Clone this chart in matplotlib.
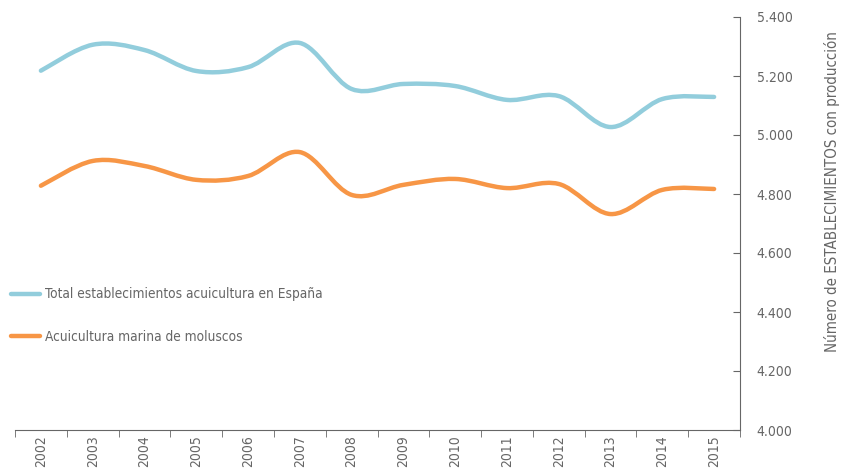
import matplotlib.pyplot as plt
from matplotlib.path import Path
from matplotlib.patches import PathPatch
from matplotlib.lines import Line2D
import numpy as np

# ------------------ Data ------------------
years = ["2002", "2003", "2004", "2005", "2006", "2007", "2008",
         "2009", "2010", "2011", "2012", "2013", "2014", "2015"]

total_espana = [5218, 5306, 5288, 5217, 5230, 5312, 5156,
                5173, 5166, 5119, 5132, 5027, 5122, 5129]

moluscos = [4828, 4912, 4895, 4848, 4861, 4942, 4797,
            4831, 4851, 4820, 4834, 4732, 4814, 4817]

y_ticks = [4000, 4200, 4400, 4600, 4800, 5000, 5200, 5400]

blue = "#92CDDC"
orange = "#F79646"
grey = "#666666"

plt.rcParams['font.family'] = ['DejaVu Sans']
plt.rcParams['font.stretch'] = 'condensed'


def smooth_path(xs, ys, tension=0.5):
    # cubic bezier through every point (Catmull-Rom style smoothed line)
    xs = np.asarray(xs, float)
    ys = np.asarray(ys, float)
    n = len(xs)
    verts = [(xs[0], ys[0])]
    codes = [Path.MOVETO]
    for i in range(n - 1):
        x0, y0 = (xs[i - 1], ys[i - 1]) if i > 0 else (xs[i], ys[i])
        x3, y3 = (xs[i + 2], ys[i + 2]) if i + 2 < n else (xs[i + 1], ys[i + 1])
        c1 = (xs[i] + (xs[i + 1] - x0) * tension / 3, ys[i] + (ys[i + 1] - y0) * tension / 3)
        c2 = (xs[i + 1] - (x3 - xs[i]) * tension / 3, ys[i + 1] - (y3 - ys[i]) * tension / 3)
        verts += [c1, c2, (xs[i + 1], ys[i + 1])]
        codes += [Path.CURVE4] * 3
    return Path(verts, codes)


fig = plt.figure(figsize=(8.5, 4.7), dpi=100)
ax = fig.add_axes([15 / 850, 40 / 470, 725 / 850, 413 / 470])

x = np.arange(len(years))
for values, color in [(total_espana, blue), (moluscos, orange)]:
    patch = PathPatch(smooth_path(x, values, tension=0.5), facecolor='none',
                      edgecolor=color, lw=3.2, capstyle='round', joinstyle='round')
    ax.add_patch(patch)

ax.set_xlim(-0.5, len(years) - 0.5)
ax.set_ylim(4000, 5400)

# axes styling
ax.spines['left'].set_visible(False)
ax.spines['top'].set_visible(False)
ax.spines['right'].set_color(grey)
ax.spines['bottom'].set_color(grey)

ax.yaxis.tick_right()
ax.set_yticks(y_ticks)
ax.set_yticklabels([f"{v:,}".replace(",", ".") for v in y_ticks])
ax.tick_params(axis='y', direction='in', length=5, color=grey,
               labelcolor=grey, labelsize=10, pad=12)

ax.set_xticks(x)
ax.set_xticklabels(years, rotation=90)
ax.set_xticks(np.arange(-0.5, len(years)), minor=True)
ax.tick_params(axis='x', which='major', length=0, labelcolor=grey,
               labelsize=10, pad=4)
ax.tick_params(axis='x', which='minor', direction='out', length=5, color=grey)

fig.text(832 / 850, 1 - 192 / 470, "Número de ESTABLECIMIENTOS con producción",
         rotation=90, ha='center', va='center', color=grey, fontsize=10.8)

# legend
handles = [Line2D([], [], color=blue, lw=3.2, solid_capstyle='round'),
           Line2D([], [], color=orange, lw=3.2, solid_capstyle='round')]
labels = ["Total establecimientos acuicultura en España",
          "Acuicultura marina de moluscos"]
fig.legend(handles, labels, loc='upper left', bbox_to_anchor=(0.006, 1 - 282 / 470),
           frameon=False, fontsize=9.8, labelcolor=grey, handlelength=2.2,
           handletextpad=0.35, labelspacing=2.1, borderaxespad=0)

fig.savefig("out.png", dpi=100)
